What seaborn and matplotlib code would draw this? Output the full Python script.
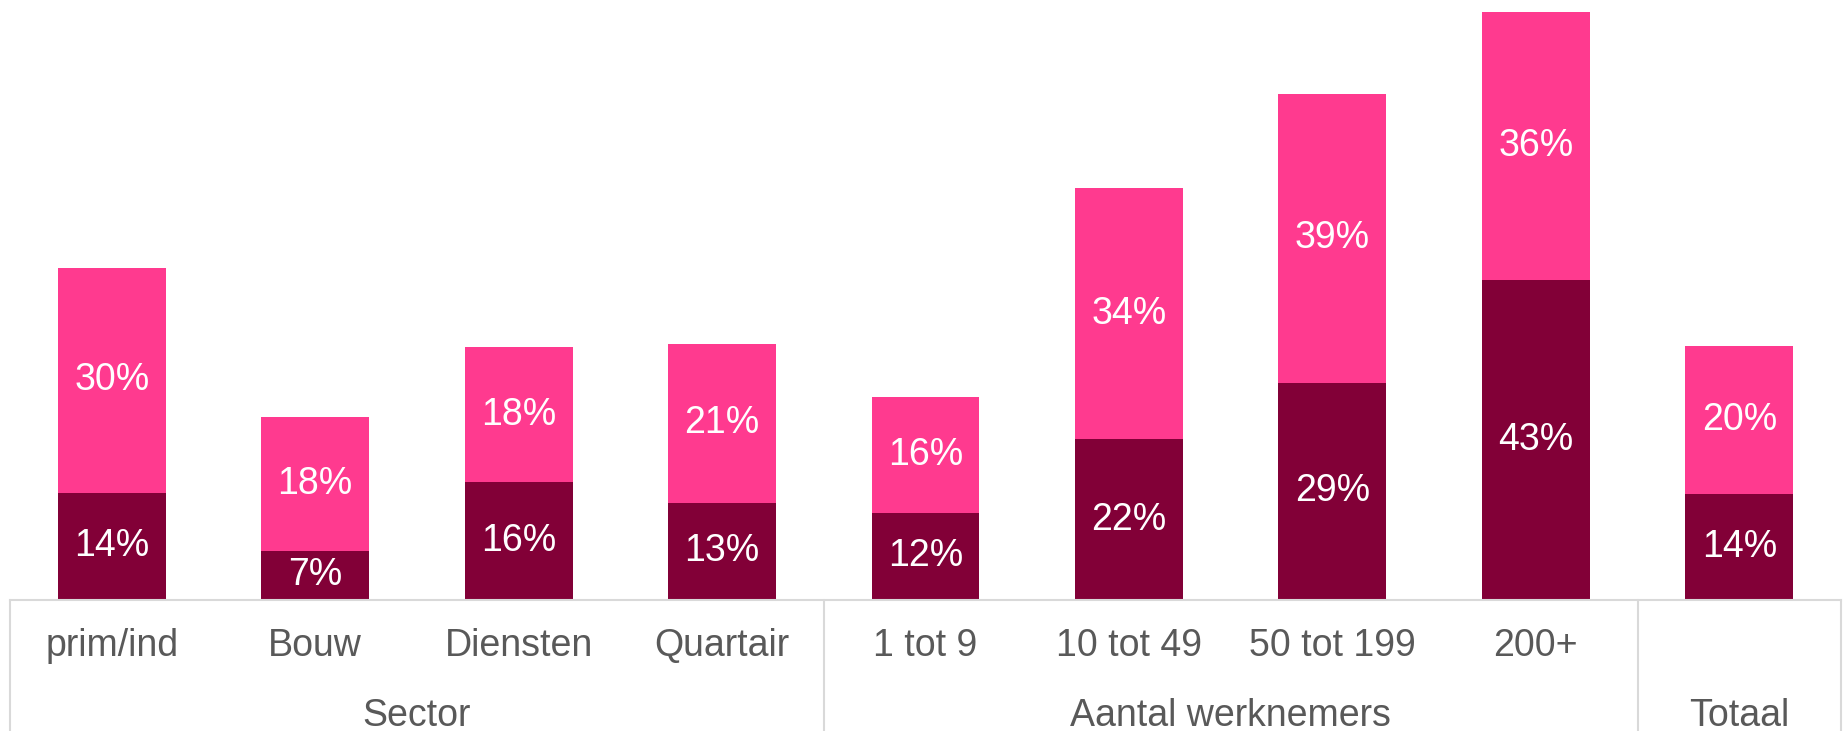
import matplotlib
matplotlib.use("Agg")
import matplotlib.pyplot as plt
import seaborn as sns
import pandas as pd

# data (bar heights estimated, labels are rounded)
categories = ["prim/ind", "Bouw", "Diensten", "Quartair",
              "1 tot 9", "10 tot 49", "50 tot 199", "200+", "Totaal"]
tick_labels = ["prim/ind", "Bouw", "Diensten", "Quartair",
               "1 tot 9", "10 tot 49", "50 tot 199", "200+", ""]
dark_vals = [14.4, 6.6, 15.8, 13.1, 11.7, 21.6, 29.2, 43.0, 14.2]
pink_vals = [30.3, 18.0, 18.2, 21.3, 15.6, 33.8, 38.9, 36.0, 19.9]
groups = ["Sector", "Aantal werknemers", "Totaal"]
group_sizes = [4, 4, 1]

DARK = "#820037"
PINK = "#FF3A8F"
GREY_TXT = "#595959"
GREY_LINE = "#D9D9D9"

sns.set_style("white")
plt.rcParams["font.family"] = ["Liberation Sans", "DejaVu Sans"]

df = pd.DataFrame({"cat": categories, "dark": dark_vals, "pink": pink_vals})
df["total"] = df["dark"] + df["pink"]

fig = plt.figure(figsize=(18.44, 7.31), dpi=100)
ax = fig.add_axes([10 / 1844, 131 / 731, 1831 / 1844, 595 / 731])

sns.barplot(data=df, x="cat", y="total", color=PINK, saturation=1,
            width=0.53, ax=ax, edgecolor="none")
sns.barplot(data=df, x="cat", y="dark", color=DARK, saturation=1,
            width=0.53, ax=ax, edgecolor="none")

for i, (d, p) in enumerate(zip(dark_vals, pink_vals)):
    ax.text(i, d / 2, f"{d:.0f}%", ha="center", va="center", color="white", fontsize=27)
    ax.text(i, d + p / 2, f"{p:.0f}%", ha="center", va="center", color="white", fontsize=27)

ax.set_xlim(-0.5, len(categories) - 0.5)
ax.set_ylim(0, 80)
ax.set_yticks([])
ax.set_xlabel("")
ax.set_ylabel("")
ax.set_xticks(range(len(categories)))
ax.set_xticklabels(tick_labels)
ax.tick_params(axis="x", length=0, pad=20, labelsize=27, labelcolor=GREY_TXT)

for side in ["top", "left", "right"]:
    ax.spines[side].set_visible(False)
ax.spines["bottom"].set_color(GREY_LINE)
ax.spines["bottom"].set_linewidth(1.5)

# group labels and separators below the axis
trans = ax.get_xaxis_transform()
start = -0.5
ax.plot([start, start], [0, -0.23], color=GREY_LINE, lw=1.5, transform=trans, clip_on=False)
for g, n in zip(groups, group_sizes):
    end = start + n
    ax.text((start + end) / 2, -0.195, g, ha="center", va="center",
            fontsize=27, color=GREY_TXT, transform=trans)
    ax.plot([end, end], [0, -0.23], color=GREY_LINE, lw=1.5, transform=trans, clip_on=False)
    start = end

fig.savefig("out.png", dpi=100)
